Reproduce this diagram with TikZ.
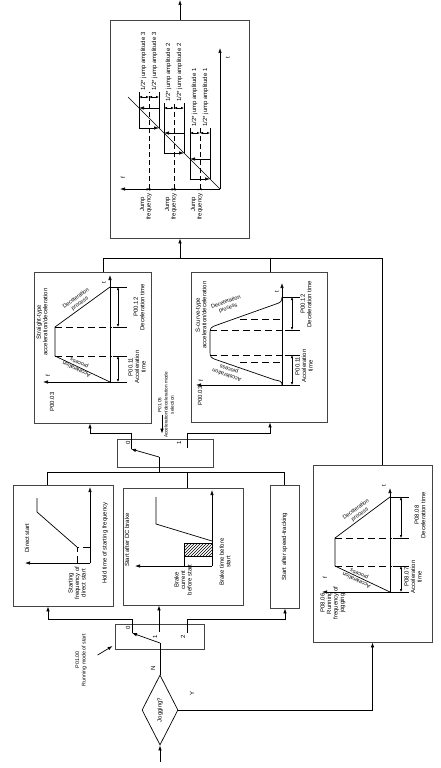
\documentclass[tikz,border=0pt]{standalone}
\usepackage{fontspec}
\setmainfont{Liberation Sans}
\usetikzlibrary{arrows.meta,shapes.geometric,patterns}
\definecolor{edgegray}{HTML}{444444}

\begin{document}
\begin{tikzpicture}[x=1pt,y=-1pt,line width=0.7pt,
 box/.style={draw=edgegray,line width=0.8pt,inner sep=0pt},
 decision/.style={draw,diamond,inner sep=0pt,rotate=90,font=\fontsize{6}{6.5}\selectfont},
 lbl/.style={rotate=90,align=center,inner sep=0pt,font=\fontsize{6}{6.5}\selectfont},
 slant/.style={align=center,inner sep=0pt,font=\fontsize{5.5}{6.5}\selectfont},
 arr/.style={-{Latex[length=5pt,width=3.5pt]}},
 dimarr/.style={{Latex[length=3pt,width=2.6pt]}-{Latex[length=3pt,width=2.6pt]},line width=0.6pt},
 dsh/.style={dash pattern=on 7pt off 4pt},
 dshj/.style={dash pattern=on 5pt off 3pt}]
\useasboundingbox (0,0) rectangle (440,768);

 \node[decision,minimum width=70,minimum height=36] (jog) at (160,710) {Jogging?};
 \node[box,minimum width=89,minimum height=25] (sw1) at (159.5,636.5) {};
 \node[box,minimum width=100,minimum height=121] (direct) at (63,545.5) {};
 \node[box,minimum width=120,minimum height=117] (dcb) at (183,546.5) {};
 \node[box,minimum width=29,minimum height=123,
   label={[lbl,name=tracktxt]center:Start after speed-tracking}] (track) at (284.5,546.5) {};
 \node[box,minimum width=96,minimum height=28] (sw2) at (165,453) {};
 \node[box,minimum width=117,minimum height=151] (straight) at (92.5,347.5) {};
 \node[box,minimum width=136,minimum height=150] (scurve) at (259,347) {};
 \node[box,minimum width=119,minimum height=177] (jogbox) at (372.5,553.5) {};
 \node[box,minimum width=139,minimum height=218] (jump) at (180,129) {};

 % start and jogging branch
 \coordinate (in) at (160,762);
 \draw[arr] (in) -- (jog.west);
 \node[lbl] (nmark) at (153,668) {N};
 \node[lbl] (ymark) at (192,693) {Y};
 \draw[arr] (jog.south) -| (jogbox.south);

 % running mode of start
 \coordinate (sw1p) at (160,643);
 \coordinate (sw1t0) at (132,633);
 \coordinate (sw1t1) at (159,632);
 \coordinate (sw1t2) at (187,633);
 \coordinate (b0) at (48,619);
 \coordinate (b2) at (285,619);
 \draw (jog.east) -- (sw1p);
 \draw[arr] (sw1p) -- (sw1t0);
 \draw[arr] (sw1t0) |- (b0) -- (b0 |- direct.south);
 \draw[arr] (sw1t1) -- (sw1t1 |- dcb.south);
 \draw[arr] (sw1t2) |- (b2) -- (b2 |- track.south);
 \node[lbl] (s1n0) at (128,628) {0};
 \node[lbl] (s1n1) at (155,637) {1};
 \node[lbl] (s1n2) at (183,637) {2};
 \node[lbl,font=\fontsize{5.3}{6.5}\selectfont] (mode1) at (81,660) {P01.00\\Running mode of start};
 \draw[arr] ([shift={(-17,18.5)}]sw1.west) -- ([shift={(-2,9.5)}]sw1.west);

 % direct start
 \draw[arr] (90,563) -- (90,487);
 \draw[arr] (90,563) -- (25,563);
 \draw[dsh] (77,563) -- (77,547) -- (90,547);
 \draw (77,547) -- (37,512) -- (37,498);
 \node[lbl] (dtitle) at (27,538) {Direct start};
 \node[lbl] (dfreq) at (77,583) {Starting\\frequency of\\direct start};
 \node[lbl] (dhold) at (105,543) {Hold time of starting frequency};

 % start after DC brake
 \draw[arr] (212,566) -- (212,490);
 \draw[arr] (212,566) -- (135,566);
 \draw[pattern=north east lines] (184,543) rectangle (212,556);
 \draw (184,556) -- (184,566);
 \draw (212,541) -- (156,524) -- (156,497);
 \node[lbl] (btitle) at (127,540) {Start after DC brake};
 \node[lbl] (bcur) at (183,580) {Brake\\current\\before start};
 \node[lbl] (btime) at (225,562) {Brake time before\\start};

 % to acceleration/deceleration mode selection
 \coordinate (bl) at (47,472);
 \coordinate (bm) at (187,472);
 \coordinate (br) at (284,472);
 \coordinate (bus) at (159,472);
 \coordinate (sw2p) at (159,457);
 \coordinate (sw2t0) at (131,449);
 \coordinate (sw2t1) at (187,448);
 \coordinate (c0) at (90,433);
 \coordinate (c1) at (270,433);
 \draw (direct.north -| bl) -- (bl) -- (br) -- (br |- track.north);
 \draw (bm) -- (bm |- dcb.north);
 \draw (bus) -- (sw2p);
 \draw[arr] (sw2p) -- (sw2t0);
 \draw[arr] (sw2t0) |- (c0) -- (c0 |- straight.south);
 \draw[arr] (sw2t1) |- (c1) -- (c1 |- scurve.south);
 \node[lbl] (s2n0) at (128,443) {0};
 \node[lbl] (s2n1) at (179,443) {1};
 \node[lbl,font=\fontsize{4.7}{6.3}\selectfont] (mode2) at (166,405)
   {P01.05\\Acceleration/deceleration mode\\selection};
 \draw[arr] ([shift={(-3,-24)}]sw2.north) -- ([shift={(-3,-5)}]sw2.north);

 % straight-type
 \draw[arr] (110,382) -- (110,275);
 \draw[arr] (110,382) -- (43,382);
 \draw (110,382) -- (127,382);
 \draw (110,382) -- (55,356) -- (55,327) -- (110,287);
 \draw[dsh] (55,356) -- (112,356);
 \draw[dsh] (55,327) -- (112,327);
 \draw (113,356) -- (127,356);
 \draw (113,327) -- (127,327);
 \draw (110,287) -- (127,287);
 \draw[dimarr] (118,382) -- (118,356);
 \draw[dimarr] (118,327) -- (118,287);
 \node[lbl] (stitle) at (42,322) {Straight-type\\acceleration/deceleration};
 \node[lbl] (st) at (104,283) {t};
 \node[lbl] (sf) at (48,376) {f};
 \node[lbl] (smax) at (52,402) {P00.03};
 \node[lbl] (sacc) at (137,367) {P00.11\\Acceleration\\time};
 \node[lbl] (sdec) at (139,307) {P00.12\\Deceleration time};
 \node[slant,rotate=155] (sap) at (78,366) {Acceleration\\process};
 \node[slant,rotate=36] (sdp) at (78,301) {Deceleration\\process};

 % S-curve-type
 \draw[arr] (282,385) -- (282,283);
 \draw[arr] (282,385) -- (196,385);
 \draw (282,385) -- (300,385);
 \draw (282,385) .. controls (282,381) and (280,381) .. (275,380) -- (217,360)
   .. controls (211,358) and (210,357) .. (210,352) -- (210,333)
   .. controls (210,328) and (211,327) .. (217,325) -- (276,304)
   .. controls (280,302.5) and (282,302) .. (282,297);
 \draw[dsh] (210,355) -- (282,355);
 \draw[dsh] (210,330) -- (282,330);
 \draw[dsh] (240,362) -- (282,362);
 \draw[dsh] (240,319) -- (282,319);
 \draw (285,355) -- (300,355);
 \draw (285,330) -- (300,330);
 \draw (282,297) -- (300,297);
 \draw[dimarr] (292,385) -- (292,355);
 \draw[dimarr] (292,330) -- (292,297);
 \node[lbl] (ctitle) at (201,315) {S-curve-type\\acceleration/deceleration};
 \node[lbl] (ct) at (277,292) {t};
 \node[lbl] (cf) at (201,381) {f};
 \node[lbl] (cmax) at (200,396) {P00.03};
 \node[lbl] (cacc) at (304,366) {P00.11\\Acceleration\\time};
 \node[lbl] (cdec) at (306,304) {P00.12\\Deceleration time};
 \node[slant,rotate=161] (cap) at (228,372) {Acceleration\\process};
 \node[slant,rotate=20] (cdp) at (227,305) {Deceleration\\process};

 % jogging
 \draw[arr] (390,592) -- (390,488);
 \draw[arr] (390,592) -- (322,592);
 \draw (390,592) -- (409,592);
 \draw (390,592) -- (335,566) -- (335,538) -- (390,497);
 \draw[dsh] (335,566) -- (392,566);
 \draw[dsh] (335,538) -- (392,538);
 \draw (393,566) -- (409,566);
 \draw (393,538) -- (409,538);
 \draw (390,497) -- (409,497);
 \draw[dimarr] (401,592) -- (401,566);
 \draw[dimarr] (401,538) -- (401,497);
 \node[lbl] (jt) at (384,486) {t};
 \node[lbl] (jf) at (325,578) {f};
 \node[lbl] (jrun) at (333,603) {P08.06\\Running\\frequency of\\jogging};
 \node[lbl] (jacc) at (413,577) {P08.07\\Acceleration\\time};
 \node[lbl] (jdec) at (420,515) {P08.08\\Deceleration time};
 \node[slant,rotate=155] (jap) at (358,577) {Acceleration\\process};
 \node[slant,rotate=36] (jdp) at (358,512) {Deceleration\\process};

 % to jump frequency
 \coordinate (tl) at (103,258);
 \coordinate (tm) at (270,258);
 \coordinate (tr) at (382,258);
 \coordinate (tj) at (180,258);
 \coordinate (out) at (180,0);
 \draw (straight.north -| tl) -- (tl) -- (tr) -- (tr |- jogbox.north);
 \draw (tm) -- (tm |- scurve.north);
 \draw[arr] (tj) -- (jump.south);
 \draw[arr] (jump.north) -- (out);

 % jump frequency
 \draw[arr] (220,189) -- (220,48);
 \draw[arr] (220,189) -- (120,189);
 \draw (220,189) -- (128,97);
 \node[lbl] (ft) at (228,58) {t};
 \node[lbl] (ff) at (123,178) {f};
 \foreach \c/\d/\k in {200/133/1,174/108/2,149/97/3}{
   \draw[dshj] (\c,189) -- (\c,\d-5);
   \draw (\c+10,\c-21) -- (\c+10,\d-5);
   \draw (\c-10,\c-21) -- (\c-10,\d-5);
   \draw[arr] (\c-10,\c-21) -- (\c+10,\c-21);
   \draw[arr] (\c+10,\c-41) -- (\c-10,\c-41);
   \draw[dimarr] (\c+10,\d) -- (\c,\d);
   \draw[dimarr] (\c,\d) -- (\c-10,\d);
   \node[lbl,anchor=west] (amp\k a) at (\c-5.5,\d-6) {1/2* jump amplitude \k};
   \node[lbl,anchor=west] (amp\k b) at (\c+5.5,\d-6) {1/2* jump amplitude \k};
   \node[lbl] (jf\k) at (\c-3,204) {Jump\\frequency \k};
 }
\end{tikzpicture}
\end{document}
